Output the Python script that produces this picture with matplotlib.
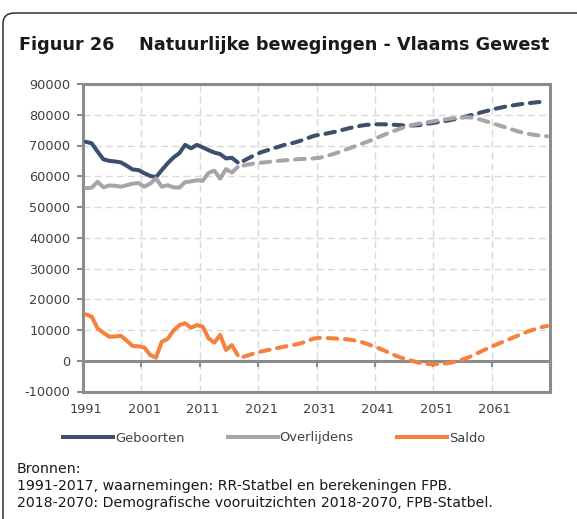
import matplotlib
matplotlib.use("Agg")
import matplotlib.pyplot as plt
from matplotlib.patches import FancyBboxPatch
from matplotlib.lines import Line2D

# ---------------- data ----------------
years_obs = list(range(1991, 2018))
geboorten_obs = [71200, 70700, 68000, 65500, 65000, 64800, 64500, 63400, 62200, 62000,
                 61000, 60100, 59700, 62000, 64200, 66100, 67500, 70200, 69100, 70200,
                 69400, 68500, 67700, 67200, 65800, 66000, 64500]
overlijdens_obs = [56100, 56300, 58200, 56400, 57000, 56900, 56600, 57100, 57600, 57800,
                   56600, 57600, 59300, 56600, 57100, 56400, 56300, 58100, 58300, 58700,
                   58500, 61100, 61800, 59200, 62300, 61200, 63000]
saldo_obs = [15100, 14300, 10500, 9100, 7800, 7900, 8100, 6500, 4800, 4700,
             4300, 1900, 1000, 6200, 7100, 9800, 11600, 12200, 10700, 11600,
             11100, 7300, 5900, 8400, 3500, 5100, 1800]

years_proj = list(range(2018, 2071))
geboorten_proj = [65000, 66000, 67000, 67800, 68400, 69000, 69600, 70200, 70600, 71100,
                  71700, 72400, 73100, 73500, 73800, 74200, 74600, 75100, 75600, 76000,
                  76400, 76700, 76800, 76900, 76900, 76800, 76700, 76600, 76500, 76500,
                  76600, 76900, 77200, 77500, 77800, 78100, 78500, 78900, 79400, 79900,
                  80400, 80900, 81400, 81900, 82300, 82700, 83000, 83300, 83600, 83800,
                  84000, 84200, 84300]
overlijdens_proj = [63500, 63900, 64200, 64400, 64600, 64800, 65000, 65200, 65300, 65500,
                    65600, 65700, 65800, 66000, 66500, 67000, 67600, 68300, 69000, 69700,
                    70400, 71100, 71800, 72600, 73400, 74200, 74900, 75600, 76200, 76700,
                    77100, 77400, 77700, 78000, 78300, 78600, 78900, 79100, 79200, 79100,
                    78700, 78200, 77600, 77000, 76400, 75800, 75200, 74600, 74100, 73700,
                    73400, 73200, 73000]
saldo_proj = [1300, 1900, 2500, 3000, 3400, 3800, 4200, 4600, 5000, 5300,
              5800, 6500, 7200, 7400, 7400, 7300, 7200, 7100, 6900, 6600,
              6200, 5600, 4900, 4200, 3400, 2500, 1700, 1000, 400, -100,
              -600, -1000, -1100, -1100, -1000, -800, -400, 100, 700, 1500,
              2400, 3300, 4200, 5000, 5800, 6600, 7400, 8200, 9000, 9700,
              10300, 10900, 11300]

series_names = ["Geboorten", "Overlijdens", "Saldo"]
x_labels = [1991, 2001, 2011, 2021, 2031, 2041, 2051, 2061]
y_ticks = list(range(-10000, 90001, 10000))

title_num = "Figuur 26"
title_txt = "Natuurlijke bewegingen - Vlaams Gewest"
source_lines = ["Bronnen:",
                "1991-2017, waarnemingen: RR-Statbel en berekeningen FPB.",
                "2018-2070: Demografische vooruitzichten 2018-2070, FPB-Statbel."]

# ---------------- style ----------------
c_geb = "#3C4F6D"
c_ovl = "#A6A6A6"
c_sal = "#F4823C"
c_axis = "#8C8C8C"
c_grid = "#D9D9D9"
LW = 2.9

plt.rcParams['font.family'] = ['DejaVu Sans']

W, H = 577, 519
fig = plt.figure(figsize=(W / 100, H / 100), dpi=100)

# frame
frame = FancyBboxPatch((3 / W, -30 / H), 700 / W, (H - 13 + 30) / H,
                       boxstyle="round,pad=0,rounding_size=0.02",
                       transform=fig.transFigure, facecolor="none",
                       edgecolor="#1a1a1a", linewidth=1.0, clip_on=False)
fig.patches.append(frame)

ax = fig.add_axes([83 / W, 1 - 391.5 / H, (550 - 83) / W, (391.5 - 84) / H])

ymin, ymax = -10000, 90000
xmin, xmax = 1990.5, 2070.5
ax.set_xlim(xmin, xmax)
ax.set_ylim(ymin, ymax)

dash_kw = dict(linestyle=(0, (2.4, 1.9)), dash_capstyle="round", dash_joinstyle="round")
solid_kw = dict(solid_capstyle="round", solid_joinstyle="round")

ax.plot(years_obs, geboorten_obs, color=c_geb, lw=LW, zorder=3, **solid_kw)
ax.plot(years_obs, overlijdens_obs, color=c_ovl, lw=LW, zorder=3, **solid_kw)
ax.plot(years_obs, saldo_obs, color=c_sal, lw=LW, zorder=3, **solid_kw)
ax.plot(years_proj, geboorten_proj, color=c_geb, lw=LW, zorder=3, **dash_kw)
ax.plot(years_proj, overlijdens_proj, color=c_ovl, lw=LW, zorder=3, **dash_kw)
ax.plot(years_proj, saldo_proj, color=c_sal, lw=LW, zorder=3, **dash_kw)

# grid
grid_x = [x - 0.5 for x in x_labels] + [xmax]
ax.set_xticks(grid_x, minor=True)
ax.set_xticks(x_labels)
ax.set_xticklabels([str(v) for v in x_labels])
ax.set_yticks(y_ticks)
ax.set_yticklabels([str(v) for v in y_ticks])
ax.grid(which="minor", axis="x", color=c_grid, linestyle=(0, (5, 3)), linewidth=1.0, zorder=1)
ax.grid(which="major", axis="y", color=c_grid, linestyle=(0, (5, 3)), linewidth=1.0, zorder=1)
ax.set_axisbelow(True)

ax.tick_params(axis="x", which="both", length=0, pad=8, labelsize=9.3, labelcolor="#404040")
ax.tick_params(axis="y", which="major", length=4, width=1.5, color=c_axis, pad=5,
               labelsize=9.3, labelcolor="#404040", direction="out")

for s in ax.spines.values():
    s.set_color(c_axis)
    s.set_linewidth(2.2)

# horizontal axis line at 0 with tick marks
loc0 = (0 - ymin) / (ymax - ymin)
sec = ax.secondary_xaxis(loc0)
sec.set_xticks(grid_x)
sec.set_xticklabels([])
sec.tick_params(axis="x", direction="out", length=4, width=1.5, color=c_axis)
for name, s in sec.spines.items():
    s.set_color(c_axis)
    s.set_linewidth(2.2)
sec.set_zorder(1.8)

# title
fig.text(19 / W, 1 - 45 / H, title_num, fontsize=12.7, fontweight="bold",
         color="#1a1a1a", va="center", ha="left")
fig.text(139 / W, 1 - 45 / H, title_txt, fontsize=12.7, fontweight="bold",
         color="#1a1a1a", va="center", ha="left")

# legend
handles = [Line2D([], [], color=c_geb, lw=LW),
           Line2D([], [], color=c_ovl, lw=LW),
           Line2D([], [], color=c_sal, lw=LW)]
fs_leg = 9.4
px_per_em = fs_leg * 100 / 72
leg = fig.legend(handles, series_names, loc="center left",
                 bbox_to_anchor=(63 / W, 1 - 438 / H), ncol=3, frameon=False,
                 fontsize=fs_leg, handlelength=50 / px_per_em,
                 handletextpad=2 / px_per_em, columnspacing=43 / px_per_em,
                 borderpad=0, borderaxespad=0)
for t in leg.get_texts():
    t.set_color("#404040")

# source
for i, line in enumerate(source_lines):
    fig.text(17 / W, 1 - (469 + 17 * i) / H, line, fontsize=10.2, color="#1a1a1a",
             va="center", ha="left")

fig.savefig("out.png", dpi=100)
